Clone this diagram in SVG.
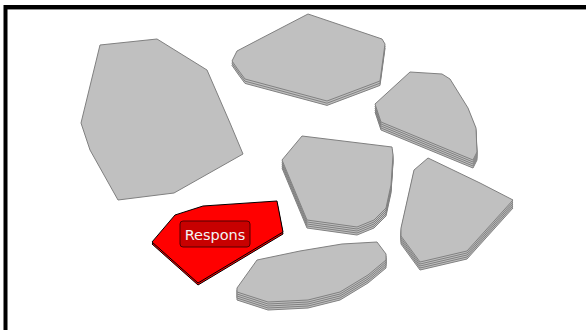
<svg xmlns="http://www.w3.org/2000/svg" xmlns:xlink="http://www.w3.org/1999/xlink" width="586" height="330" viewBox="0 0 586 330">
<style>
.g{fill:#c0c0c0;stroke:#808080;stroke-width:1;stroke-linejoin:round}
.r{fill:#ff0000;stroke:#000000;stroke-width:1;stroke-linejoin:round}
.lbl{fill:#c80000;stroke:#500000;stroke-width:1}
.t{font-family:"DejaVu Sans",sans-serif;font-size:14.5px;fill:#f4f4f4}
</style>
<defs>
<polygon id="pB" points="308,14 382,39 385,44 380,81 327,101 245,79 239,71 232,61 237,51 258,40"/>
<polygon id="pC" points="410,72 442,74 450,79 468,108 476,128 477,152 473,160 381,122 375,104"/>
<polygon id="pD" points="302,136 392,147 393,155 391,185 386,208 374,220 357,227 307,220 282,160"/>
<polygon id="pE" points="428,158 480,183 513,200 467,251 420,262 401,236 401,228 414,170"/>
<polygon id="pF" points="257,260 300,251 342,244 377,242 386,254 386,260 368,275 340,292 308,300 268,302 237,292 237,288"/>
<polygon id="pG" points="152,242 175,215 203,206 277,201 283,232 198,283"/>
</defs>
<rect x="0" y="0" width="586" height="330" fill="#ffffff"/>
<g id="frame">
<line x1="7" y1="9.5" x2="586" y2="9.5" stroke="#909090" stroke-width="1"/>
<path d="M5.5,330 V7 H586" fill="none" stroke="#000000" stroke-width="4"/>
</g>
<g id="connectors"></g>
<g id="nodeA">
<polygon class="g" points="100,45 157,39 207,70 230,123 243,154 174,193 118,200 90,150 81,123"/>
</g>
<g id="nodeB">
<use xlink:href="#pB" class="g" transform="translate(0,4.4)"/>
<use xlink:href="#pB" class="g" transform="translate(0,2.2)"/>
<use xlink:href="#pB" class="g"/>
</g>
<g id="nodeC">
<use xlink:href="#pC" class="g" transform="translate(0,8)"/>
<use xlink:href="#pC" class="g" transform="translate(0,6)"/>
<use xlink:href="#pC" class="g" transform="translate(0,4)"/>
<use xlink:href="#pC" class="g" transform="translate(0,2)"/>
<use xlink:href="#pC" class="g"/>
</g>
<g id="nodeD">
<use xlink:href="#pD" class="g" transform="translate(0,8)"/>
<use xlink:href="#pD" class="g" transform="translate(0,6)"/>
<use xlink:href="#pD" class="g" transform="translate(0,4)"/>
<use xlink:href="#pD" class="g" transform="translate(0,2)"/>
<use xlink:href="#pD" class="g"/>
</g>
<g id="nodeE">
<use xlink:href="#pE" class="g" transform="translate(0,8)"/>
<use xlink:href="#pE" class="g" transform="translate(0,6)"/>
<use xlink:href="#pE" class="g" transform="translate(0,4)"/>
<use xlink:href="#pE" class="g" transform="translate(0,2)"/>
<use xlink:href="#pE" class="g"/>
</g>
<g id="nodeF">
<use xlink:href="#pF" class="g" transform="translate(0,8)"/>
<use xlink:href="#pF" class="g" transform="translate(0,6)"/>
<use xlink:href="#pF" class="g" transform="translate(0,4)"/>
<use xlink:href="#pF" class="g" transform="translate(0,2)"/>
<use xlink:href="#pF" class="g"/>
</g>
<g id="nodeG">
<use xlink:href="#pG" class="r" transform="translate(0,2)"/>
<use xlink:href="#pG" class="r"/>
<rect class="lbl" x="180" y="221" width="70" height="26" rx="3"/>
<text class="t" x="215" y="239.5" text-anchor="middle">Respons</text>
</g>
</svg>
